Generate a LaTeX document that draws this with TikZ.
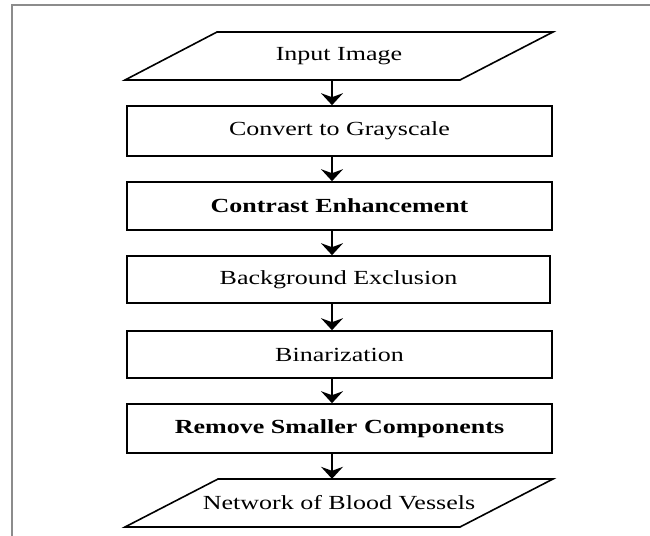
\documentclass[tikz,border=0pt]{standalone}
\usepackage{fontspec}
\setmainfont[FakeStretch=1.3]{Liberation Serif}
\usetikzlibrary{arrows.meta}
\begin{document}
\begin{tikzpicture}[x=1pt,y=1pt,
  box/.style={draw,line width=1.6pt,minimum width=425pt,inner sep=0pt,font=\fontsize{20}{24}\selectfont},
  iobox/.style={inner sep=0pt,minimum width=335pt,minimum height=48pt,font=\fontsize{20}{24}\selectfont},
  arr/.style={line width=1.5pt,-{Stealth[length=12pt,width=22pt,inset=4pt]}},
  frame/.style={draw=black!45,line width=2pt}]
\useasboundingbox (0,0) rectangle (650,-535);
\draw[frame] (12,-545) -- (12,-5) -- (660,-5);
% input parallelogram
\node[iobox] (in) at (339,-56) {Input Image};
\draw[line width=1.6pt] (217,-32) -- (553,-32) -- (460,-80) -- (125,-80) -- cycle;
\node[box,minimum height=50pt] (b1) at (339.5,-131) {Convert to Grayscale};
\node[box,minimum height=48pt] (b2) at (339.5,-206) {\bfseries Contrast Enhancement};
\node[box,minimum height=47pt,minimum width=423pt] (b3) at (338.5,-279.5) {Background Exclusion};
\node[box,minimum height=47pt] (b4) at (339.5,-354.5) {Binarization};
\node[box,minimum height=49pt] (b5) at (339.5,-428.5) {\bfseries Remove Smaller Components};
\node[iobox] (out) at (339,-503) {Network of Blood Vessels};
\draw[line width=1.6pt] (218,-479) -- (553,-479) -- (460,-527) -- (125,-527) -- cycle;
% arrows
\draw[arr] ([xshift=-7pt]in.south) -- ([xshift=-7pt]in.south |- b1.north);
\draw[arr] ([xshift=-7.5pt]b1.south) -- ([xshift=-7.5pt]b2.north);
\draw[arr] ([xshift=-7.5pt]b2.south) -- ([xshift=-7.5pt]b2.south |- b3.north);
\draw[arr] ([xshift=-6.5pt]b3.south) -- ([xshift=-6.5pt]b3.south |- b4.north);
\draw[arr] ([xshift=-7.5pt]b4.south) -- ([xshift=-7.5pt]b5.north);
\draw[arr] ([xshift=-7.5pt]b5.south) -- ([xshift=-7.5pt]b5.south |- out.north);
\end{tikzpicture}
\end{document}
